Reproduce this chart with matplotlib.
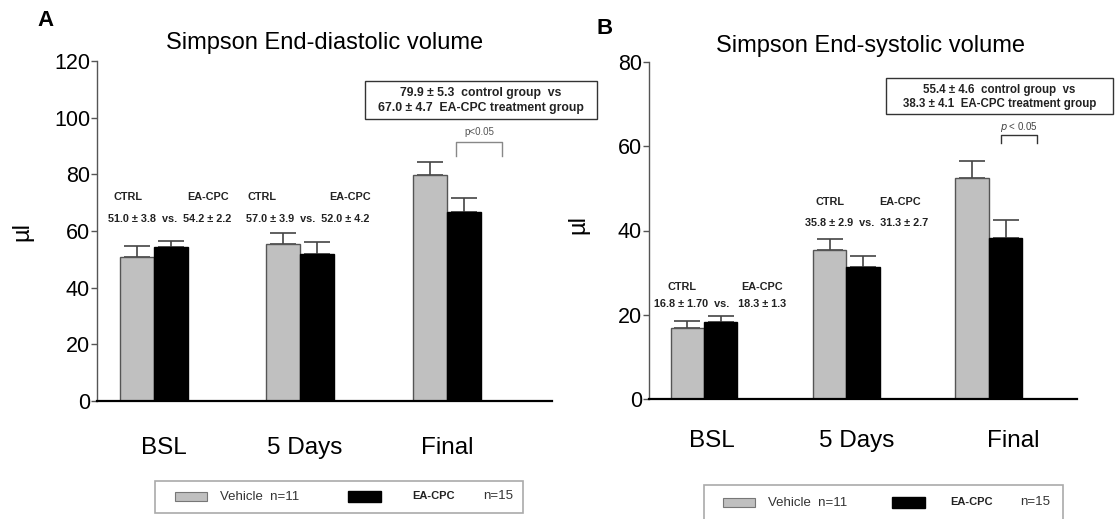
import matplotlib
matplotlib.use("Agg")
import matplotlib.pyplot as plt
from matplotlib.patches import Rectangle
from matplotlib.transforms import ScaledTranslation
import numpy as np

plt.rcParams['font.family'] = ['Liberation Sans', 'DejaVu Sans']

# ---- data ----
timepoints = ["BSL", "5 Days", "Final"]

edv_vehicle = [51.0, 55.5, 79.6]
edv_vehicle_err = [3.8, 3.9, 4.6]
edv_eacpc = [54.2, 52.0, 66.8]
edv_eacpc_err = [2.2, 4.2, 4.7]

esv_vehicle = [16.8, 35.3, 52.5]
esv_vehicle_err = [1.7, 2.7, 3.9]
esv_eacpc = [18.3, 31.3, 38.2]
esv_eacpc_err = [1.3, 2.6, 4.2]

edv_compare = ["51.0 ± 3.8  vs.  54.2 ± 2.2", "57.0 ± 3.9  vs.  52.0 ± 4.2"]
esv_compare = ["16.8 ± 1.70  vs.   18.3 ± 1.3", "35.8 ± 2.9  vs.  31.3 ± 2.7"]
edv_box = ["79.9 ± 5.3  control group  vs", "67.0 ± 4.7  EA-CPC treatment group"]
esv_box = ["55.4 ± 4.6  control group  vs", "38.3 ± 4.1  EA-CPC treatment group"]

GRAY = "#c0c0c0"
W, H = 1118, 519


def fx(px):
    return px / W


def fy(py):
    return 1 - py / H


fig = plt.figure(figsize=(11.18, 5.19), dpi=100)
axA = fig.add_axes([fx(97), fy(401), fx(455), (401 - 61) / H])
axB = fig.add_axes([fx(649), fy(399), fx(428), (399 - 62) / H])


def draw_panel(ax, veh, veh_err, ea, ea_err, ymax, ystep, xlim, w, lpad, shifts):
    x = np.arange(len(timepoints))
    ax.bar(x - w / 2, veh, w, color=GRAY, edgecolor="#555555", linewidth=1, zorder=2)
    ax.bar(x + w / 2, ea, w, color="black", edgecolor="black", linewidth=1, zorder=2)
    ax.errorbar(x - w / 2, veh, yerr=[np.zeros(len(veh)), veh_err], fmt="none",
                ecolor="#444444", elinewidth=1.2, capsize=9.5, capthick=1.2, zorder=1)
    ax.errorbar(x + w / 2, ea, yerr=[np.zeros(len(ea)), ea_err], fmt="none",
                ecolor="#444444", elinewidth=1.2, capsize=9.5, capthick=1.2, zorder=1)
    ax.set_xlim(*xlim)
    ax.set_ylim(0, ymax)
    ax.set_yticks(np.arange(0, ymax + 1, ystep))
    ax.set_xticks(x)
    ax.set_xticklabels(timepoints, fontsize=17.5)
    ax.tick_params(axis="x", length=0, pad=lpad)
    ax.tick_params(axis="y", labelsize=15.5, length=4, width=1, color="#555555", pad=1)
    # labels in the original sit slightly right of the group centres
    for lab, dx in zip(ax.get_xticklabels(), shifts):
        lab.set_transform(lab.get_transform() + ScaledTranslation(dx / 100, 0, fig.dpi_scale_trans))
    for s in ["top", "right"]:
        ax.spines[s].set_visible(False)
    ax.spines["left"].set_color("#555555")
    ax.spines["left"].set_linewidth(1)
    ax.spines["bottom"].set_linewidth(1.6)


draw_panel(axA, edv_vehicle, edv_vehicle_err, edv_eacpc, edv_eacpc_err, 120, 20,
           (-0.389, 2.717), 0.232, 26, [10, 4, 0])
draw_panel(axB, esv_vehicle, esv_vehicle_err, esv_eacpc, esv_eacpc_err, 80, 20,
           (-0.386, 2.618), 0.235, 22, [8, 10, 24])

# group annotations
bold = dict(fontsize=7.8, fontweight="bold", color="#222222", ha="center", va="center")
for i, (xc, xe, xv) in enumerate([(-0.177, 0.369, 0.109), (0.737, 1.338, 1.051)]):
    axA.text(xc, 72, "CTRL", **bold)
    axA.text(xe, 72, "EA-CPC", **bold)
    axA.text(xv, 64.2, edv_compare[i], **bold)
for i, (xc, xe, xv, yc, yv) in enumerate([(-0.154, 0.407, 0.112, 26.7, 22.6),
                                           (0.884, 1.375, 1.144, 46.7, 41.7)]):
    axB.text(xc, yc, "CTRL", **bold)
    axB.text(xe, yc, "EA-CPC", **bold)
    axB.text(xv, yv, esv_compare[i], **bold)

# p-value brackets
axA.plot([2.061, 2.061, 2.375, 2.375], [86.4, 91.4, 91.4, 86.4], color="#888888", lw=1)
axA.text(2.218, 94.9, "p<0.05", fontsize=7, color="#555555", ha="center", va="center")
axB.plot([2.084, 2.084, 2.337, 2.337], [60.7, 62.6, 62.6, 60.7], color="#333333", lw=1)
axB.text(2.21, 64.6, "$p$ < 0.05", fontsize=7, color="#444444", ha="center", va="center")

# summary boxes
for (x0, y0, x1, y1), lines, fs in [((365, 81, 597, 119), edv_box, 8.8),
                                    ((886, 78, 1113, 114), esv_box, 8.3)]:
    fig.patches.append(Rectangle((fx(x0), fy(y1)), fx(x1 - x0), (y1 - y0) / H,
                                 transform=fig.transFigure, fill=False,
                                 edgecolor="#333333", linewidth=1))
    cx = (x0 + x1) / 2
    fig.text(fx(cx), fy(y0 + (y1 - y0) * 0.32), lines[0], fontsize=fs, fontweight="bold",
             color="#222222", ha="center", va="center")
    fig.text(fx(cx), fy(y0 + (y1 - y0) * 0.72), lines[1], fontsize=fs, fontweight="bold",
             color="#222222", ha="center", va="center")

# titles, panel letters, y labels
fig.text(fx(325), fy(43), "Simpson End-diastolic volume", fontsize=17, ha="center", va="center")
fig.text(fx(870), fy(46), "Simpson End-systolic volume", fontsize=17, ha="center", va="center")
fig.text(fx(45), fy(20), "A", fontsize=16, fontweight="bold", ha="center", va="center")
fig.text(fx(605), fy(28), "B", fontsize=16, fontweight="bold", ha="center", va="center")
fig.text(fx(22), fy(231), "µl", fontsize=17, rotation=90, ha="center", va="center")
fig.text(fx(578), fy(225), "µl", fontsize=17, rotation=90, ha="center", va="center")

# legends
for (x0, y0, x1, y1) in [(155, 481, 523, 513), (704, 485, 1063, 530)]:
    fig.patches.append(Rectangle((fx(x0), fy(y1)), fx(x1 - x0), (y1 - y0) / H,
                                 transform=fig.transFigure, fill=False,
                                 edgecolor="#aaaaaa", linewidth=1.2))
for (gx, tx, bx, ex, nx, yc) in [(175, 220, 348, 412, 483, 497), (723, 768, 892, 950, 1020, 503)]:
    fig.patches.append(Rectangle((fx(gx), fy(yc + 4)), fx(32), 9 / H, transform=fig.transFigure,
                                 facecolor=GRAY, edgecolor="#777777", linewidth=0.8))
    fig.patches.append(Rectangle((fx(bx), fy(yc + 5)), fx(33), 11 / H, transform=fig.transFigure,
                                 facecolor="black", edgecolor="black"))
    fig.text(fx(tx), fy(yc), "Vehicle  n=11", fontsize=9.5, color="#333333", va="center")
    fig.text(fx(ex), fy(yc - 1), "EA-CPC", fontsize=8, fontweight="bold", color="#222222", va="center")
    fig.text(fx(nx), fy(yc - 1), "n=15", fontsize=9.5, color="#333333", va="center")

fig.savefig("out.png", dpi=100)
